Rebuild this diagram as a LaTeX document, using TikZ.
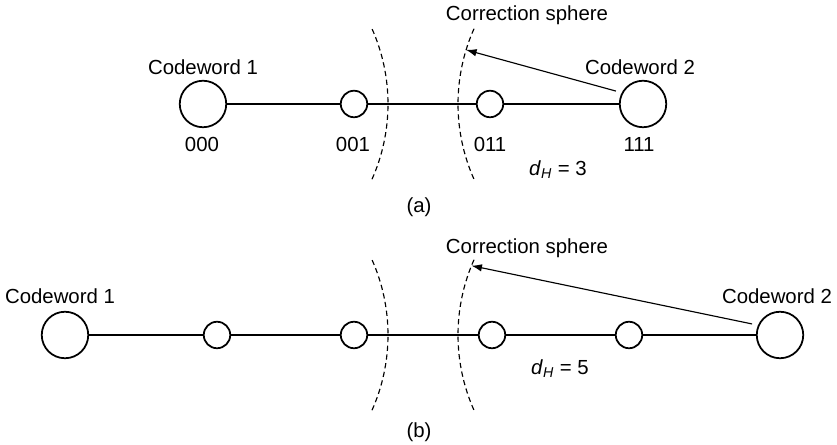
\documentclass[tikz,border=0pt]{standalone}
\usepackage{fontspec}
\setmainfont{Liberation Sans}
\usetikzlibrary{arrows.meta}

\begin{document}
\begin{tikzpicture}[
    every node/.style={font=\fontsize{11.6}{14}\selectfont},
    bigword/.style={draw,circle,line width=1pt,minimum size=0.93cm,inner sep=0pt},
    smallword/.style={draw,circle,line width=1pt,minimum size=0.53cm,inner sep=0pt},
    link/.style={line width=0.7pt},
    sphere/.style={dash pattern=on 3pt off 2pt,line width=0.65pt},
    pointer/.style={-{Latex[length=2.1mm,width=1.5mm]},line width=0.65pt}]
    \useasboundingbox (0,0) rectangle (16.74,8.9);

    % (a) three bits
    \node[bigword] (a0) at (4.06,6.82) {};
    \node[smallword] (a1) at (7.08,6.82) {};
    \node[smallword] (a2) at (9.80,6.82) {};
    \node[bigword] (a3) at (12.86,6.82) {};
    \draw[link] (a0) -- (a1) -- (a2) -- (a3);

    \node at (4.06,7.56) {Codeword 1};
    \node at (12.80,7.56) {Codeword 2};
    \foreach \x\t in {4.04/000, 7.06/001, 9.80/011, 12.78/111}{
      \node at (\x,6.02) {\t};
    }

    \draw[sphere] ([shift={(-24:3.7)}]a0) arc[start angle=-24,end angle=24,radius=3.7];
    \draw[sphere] ([shift={(156:3.7)}]a3) arc[start angle=156,end angle=204,radius=3.7];
    \coordinate (a-tip) at ([shift={(163:3.7)}]a3);
    \node at (10.54,8.6) {Correction sphere};
    \draw[pointer,shorten <=0.12cm] (a3.152) -- (a-tip);

    \node at (11.16,5.5) {\textit{d}\textsubscript{\textit{H}} = 3};
    \node at (8.38,4.76) {(a)};

    % (b) five bits
    \node[bigword] (b0) at (1.30,2.2) {};
    \foreach \n\x in {1/4.34, 2/7.08, 3/9.84, 4/12.58}{
      \node[smallword] (b\n) at (\x,2.2) {};
    }
    \node[bigword] (b5) at (15.60,2.2) {};
    \draw[link] (b0) -- (b1) -- (b2) -- (b3) -- (b4) -- (b5);

    \node at (1.20,2.98) {Codeword 1};
    \node at (15.54,2.98) {Codeword 2};

    \coordinate (b-left) at (4.06,2.2);
    \coordinate (b-right) at (12.86,2.2);
    \draw[sphere] ([shift={(-24:3.7)}]b-left) arc[start angle=-24,end angle=24,radius=3.7];
    \draw[sphere] ([shift={(156:3.7)}]b-right) arc[start angle=156,end angle=204,radius=3.7];
    \coordinate (b-tip) at ([shift={(158:3.7)}]b-right);
    \node at (10.54,3.94) {Correction sphere};
    \draw[pointer,shorten <=0.12cm] (b5.156) -- (b-tip);

    \node at (11.2,1.52) {\textit{d}\textsubscript{\textit{H}} = 5};
    \node at (8.38,0.26) {(b)};
  \end{tikzpicture}
\end{document}
